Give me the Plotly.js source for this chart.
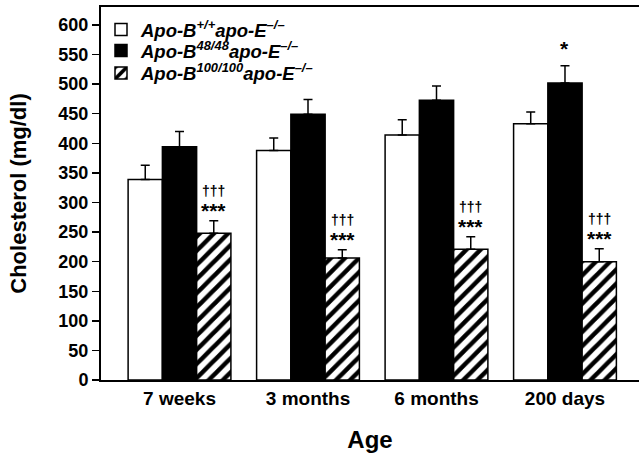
<!DOCTYPE html>
<html>
<head>
<meta charset="utf-8">
<script src="https://cdn.plot.ly/plotly-3.0.1.min.js"></script>
<style>html,body{margin:0;padding:0;background:#fff;}#chart{width:639px;height:453px;}</style>
</head>
<body>
<div id="chart"></div>
<script>
const categories = ["7 weeks", "3 months", "6 months", "200 days"];
const seriesNames = [
  "Apo-B<sup>+/+</sup>apo-E<sup>\u2013/\u2013</sup>",
  "Apo-B<sup>48/48</sup>apo-E<sup>\u2013/\u2013</sup>",
  "Apo-B<sup>100/100</sup>apo-E<sup>\u2013/\u2013</sup>"
];
const wtValues = [339, 388, 414, 433];
const wtErrors = [24, 21, 26, 20];
const b48Values = [394, 449, 473, 502];
const b48Errors = [26, 25, 24, 29];
const b100Values = [248, 206, 221, 200];
const b100Errors = [21, 14, 21, 22];
const yTicks = [0, 50, 100, 150, 200, 250, 300, 350, 400, 450, 500, 550, 600];
const b100Marks = ["\u2020\u2020\u2020", "***"];
const b48StarCategory = [3];

const FONT = "Liberation Sans, Arial, Helvetica, sans-serif";

function errSpec(arr) {
  return {type: "data", array: arr, symmetric: false, arrayminus: arr.map(() => 0),
          color: "#000", thickness: 1.5, width: 4.5};
}

const traces = [
  {type: "bar", name: seriesNames[0], x: categories, y: wtValues, legend: "legend",
   marker: {color: "#fff", line: {color: "#000", width: 1.5}},
   error_y: errSpec(wtErrors)},
  {type: "bar", name: seriesNames[1], x: categories, y: b48Values, legend: "legend2",
   marker: {color: "#000", line: {color: "#000", width: 1.5}},
   error_y: errSpec(b48Errors)},
  {type: "bar", name: seriesNames[2], x: categories, y: b100Values, legend: "legend3",
   marker: {color: "#fff", line: {color: "#000", width: 1.5},
            pattern: {shape: "/", fgcolor: "#000", bgcolor: "#fff", size: 10, solidity: 0.45}},
   error_y: errSpec(b100Errors)}
];

const barW = 0.8 / 3;
const annotations = [];
categories.forEach((c, i) => {
  const top = b100Values[i] + b100Errors[i];
  annotations.push({x: i + barW, y: top, xref: "x", yref: "y", text: "<b>" + b100Marks[1] + "</b>",
    showarrow: false, yanchor: "bottom", yshift: -3, font: {family: FONT, size: 21, color: "#000"}});
  annotations.push({x: i + barW, y: top, xref: "x", yref: "y", text: "<b>" + b100Marks[0] + "</b>",
    showarrow: false, yanchor: "bottom", yshift: 20, font: {family: FONT, size: 14, color: "#000"}});
});
b48StarCategory.forEach(i => {
  annotations.push({x: i, y: b48Values[i] + b48Errors[i], xref: "x", yref: "y", text: "<b>*</b>",
    showarrow: false, yanchor: "bottom", yshift: 4, font: {family: FONT, size: 21, color: "#000"}});
});

function legendAt(yc) {
  return {x: 0, y: yc, xanchor: "left", yanchor: "middle", bgcolor: "rgba(0,0,0,0)",
          font: {family: FONT, size: 18.5, color: "#000", weight: "bold", style: "italic"}};
}

const layout = {
  width: 639, height: 453,
  margin: {l: 101, r: 0, t: 7, b: 73, pad: 0},
  paper_bgcolor: "#fff", plot_bgcolor: "#fff",
  barmode: "group", bargap: 0.2, bargroupgap: 0,
  showlegend: true,
  legend: legendAt(0.9383),
  legend2: legendAt(0.882),
  legend3: legendAt(0.8217),
  xaxis: {type: "category", range: [-0.611, 3.576], showline: true, linecolor: "#000", linewidth: 2,
          mirror: true, ticks: "", showgrid: false, zeroline: false,
          tickfont: {family: FONT, size: 19, color: "#000", weight: "bold"},
          title: {text: "Age", font: {family: FONT, size: 24, color: "#000", weight: "bold"}, standoff: 24}},
  yaxis: {range: [0, 630.4], tickvals: yTicks, ticktext: yTicks.map(String), showline: true,
          linecolor: "#000", linewidth: 2, ticks: "outside", ticklen: 7, tickwidth: 1.5, tickcolor: "#000",
          showgrid: false, zeroline: false,
          tickfont: {family: FONT, size: 18, color: "#000", weight: "bold"},
          title: {text: "Cholesterol (mg/dl)", font: {family: FONT, size: 22, color: "#000", weight: "bold"}, standoff: 26}},
  annotations: annotations
};

Plotly.newPlot("chart", traces, layout, {displayModeBar: false, staticPlot: true});
</script>
</body>
</html>
